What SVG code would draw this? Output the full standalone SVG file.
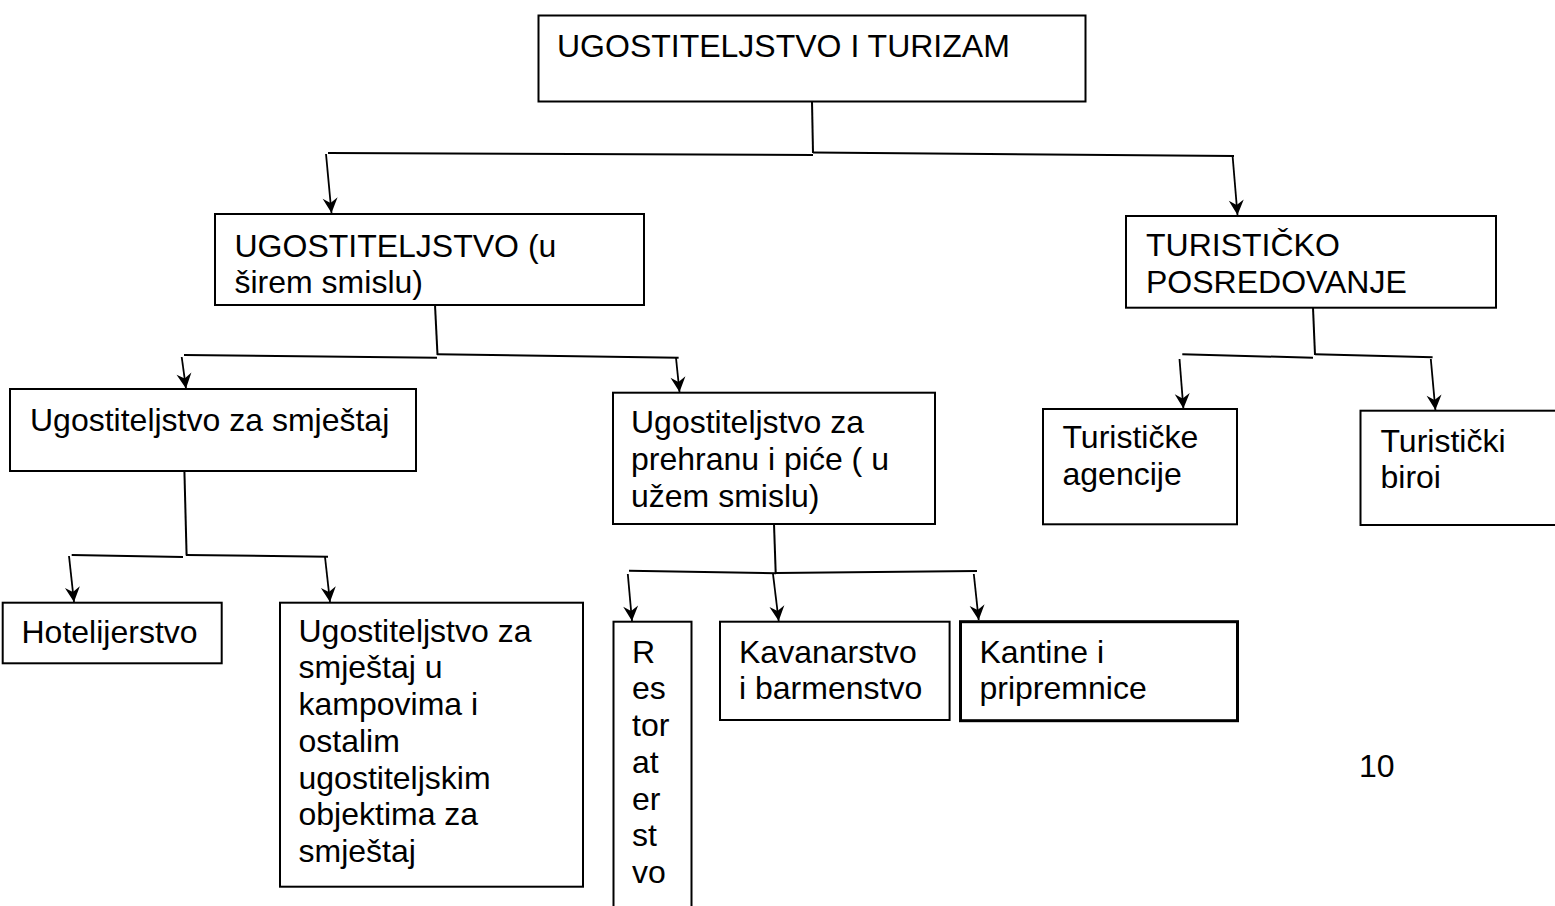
<svg xmlns="http://www.w3.org/2000/svg" width="1555" height="906" viewBox="0 0 1555 906">
<style>
  .box { fill: #ffffff; stroke: #000000; stroke-width: 2; }
  .thick { stroke-width: 3; }
  .t { font-family: "Liberation Sans", Arial, sans-serif; font-size: 32px; fill: #000000; }
  .ln { fill: none; stroke: #000000; stroke-width: 2; }
  .ar { fill: none; stroke: #000000; stroke-width: 1.8; marker-end: url(#arrow); }
</style>
<defs>
  <marker id="arrow" viewBox="-17 -9 18 18" markerWidth="18" markerHeight="18" refX="0" refY="0" orient="auto" markerUnits="userSpaceOnUse">
    <path d="M0,0 L-15,-7.5 L-10,0 L-15,7.5 Z" fill="#000000"/>
  </marker>
</defs>
<rect width="1555" height="906" fill="#ffffff"/>

<g id="connectors">
  <line class="ln" x1="812" y1="101.5" x2="813" y2="153"/>
  <line class="ln" x1="328" y1="153" x2="813" y2="155"/>
  <line class="ln" x1="813" y1="152.5" x2="1234" y2="156"/>
  <line class="ar" x1="326" y1="154" x2="331.5" y2="213"/>
  <line class="ar" x1="1232.5" y1="155" x2="1237.5" y2="215"/>

  <line class="ln" x1="435" y1="305" x2="437.5" y2="355"/>
  <line class="ln" x1="184" y1="355" x2="437" y2="357.7"/>
  <line class="ln" x1="437" y1="354.3" x2="678.6" y2="357.7"/>
  <line class="ar" x1="181.7" y1="357" x2="186" y2="388.5"/>
  <line class="ar" x1="676" y1="358" x2="679.5" y2="392"/>

  <line class="ln" x1="184.4" y1="471" x2="186.6" y2="555.5"/>
  <line class="ln" x1="71.7" y1="555" x2="183" y2="557"/>
  <line class="ln" x1="186" y1="555" x2="328" y2="556.7"/>
  <line class="ar" x1="69" y1="556" x2="74" y2="602"/>
  <line class="ar" x1="325" y1="557" x2="330" y2="602"/>

  <line class="ln" x1="774" y1="524" x2="775.7" y2="573"/>
  <line class="ln" x1="629" y1="570.7" x2="776" y2="573.3"/>
  <line class="ln" x1="776" y1="573" x2="977" y2="571"/>
  <line class="ar" x1="627.8" y1="574" x2="632" y2="621"/>
  <line class="ar" x1="773" y1="574" x2="778.7" y2="621"/>
  <line class="ar" x1="973.8" y1="574" x2="978.7" y2="620"/>

  <line class="ln" x1="1313" y1="307.7" x2="1315" y2="355"/>
  <line class="ln" x1="1182.3" y1="354.3" x2="1313" y2="357.7"/>
  <line class="ln" x1="1315" y1="354.3" x2="1432.6" y2="357.3"/>
  <line class="ar" x1="1179.5" y1="359" x2="1183.4" y2="408.5"/>
  <line class="ar" x1="1430.8" y1="359" x2="1435.4" y2="410"/>
</g>

<g id="n-ugostiteljstvo-i-turizam">
  <rect class="box" x="538.5" y="15.5" width="547" height="86"/>
  <text class="t" x="557" y="56.5">UGOSTITELJSTVO I TURIZAM</text>
</g>

<g id="n-ugostiteljstvo-sire">
  <rect class="box" x="215" y="214" width="429" height="91"/>
  <text class="t" x="234.5" y="256.5">UGOSTITELJSTVO (u<tspan x="234.5" y="293">širem smislu)</tspan></text>
</g>

<g id="n-turisticko-posredovanje">
  <rect class="box" x="1126" y="216" width="370" height="91.7"/>
  <text class="t" x="1146" y="256">TURISTIČKO<tspan x="1146" y="293">POSREDOVANJE</tspan></text>
</g>

<g id="n-smjestaj">
  <rect class="box" x="10" y="389" width="406" height="82"/>
  <text class="t" x="30" y="430.5">Ugostiteljstvo za smještaj</text>
</g>

<g id="n-prehrana">
  <rect class="box" x="613" y="392.7" width="322" height="131.3"/>
  <text class="t" x="631" y="433.3">Ugostiteljstvo za<tspan x="631" y="470">prehranu i piće ( u</tspan><tspan x="631" y="506.7">užem smislu)</tspan></text>
</g>

<g id="n-agencije">
  <rect class="box" x="1043" y="409" width="194" height="115.3"/>
  <text class="t" x="1062.5" y="448.3">Turističke<tspan x="1062.5" y="485">agencije</tspan></text>
</g>

<g id="n-biroi">
  <rect class="box" x="1360.5" y="410.7" width="200" height="114.3"/>
  <text class="t" x="1380.5" y="451.7">Turistički<tspan x="1380.5" y="488.3">biroi</tspan></text>
</g>

<g id="n-hotelijerstvo">
  <rect class="box" x="2.7" y="602.7" width="219" height="60.6"/>
  <text class="t" x="21.5" y="643.3">Hotelijerstvo</text>
</g>

<g id="n-kampovi">
  <rect class="box" x="280" y="602.7" width="303" height="284"/>
  <text class="t" x="298.5" y="641.7">Ugostiteljstvo za<tspan x="298.5" y="678.4">smještaj u</tspan><tspan x="298.5" y="715.1">kampovima i</tspan><tspan x="298.5" y="751.8">ostalim</tspan><tspan x="298.5" y="788.5">ugostiteljskim</tspan><tspan x="298.5" y="825.2">objektima za</tspan><tspan x="298.5" y="861.9">smještaj</tspan></text>
</g>

<g id="n-restoraterstvo">
  <rect class="box" x="613.5" y="621.7" width="78" height="300"/>
  <text class="t" x="632" y="662.7">R<tspan x="632" y="699.4">es</tspan><tspan x="632" y="736.1">tor</tspan><tspan x="632" y="772.8">at</tspan><tspan x="632" y="809.5">er</tspan><tspan x="632" y="846.2">st</tspan><tspan x="632" y="882.9">vo</tspan></text>
</g>

<g id="n-kavanarstvo">
  <rect class="box" x="720" y="621.7" width="229.6" height="98.3"/>
  <text class="t" x="739" y="662.7">Kavanarstvo<tspan x="739" y="699.4">i barmenstvo</tspan></text>
</g>

<g id="n-kantine">
  <rect class="box thick" x="960.5" y="621.7" width="277" height="99"/>
  <text class="t" x="979.5" y="662.7">Kantine i<tspan x="979.5" y="699.4">pripremnice</tspan></text>
</g>

<g id="page-number">
  <text class="t" x="1359" y="776.7">10</text>
</g>
</svg>
